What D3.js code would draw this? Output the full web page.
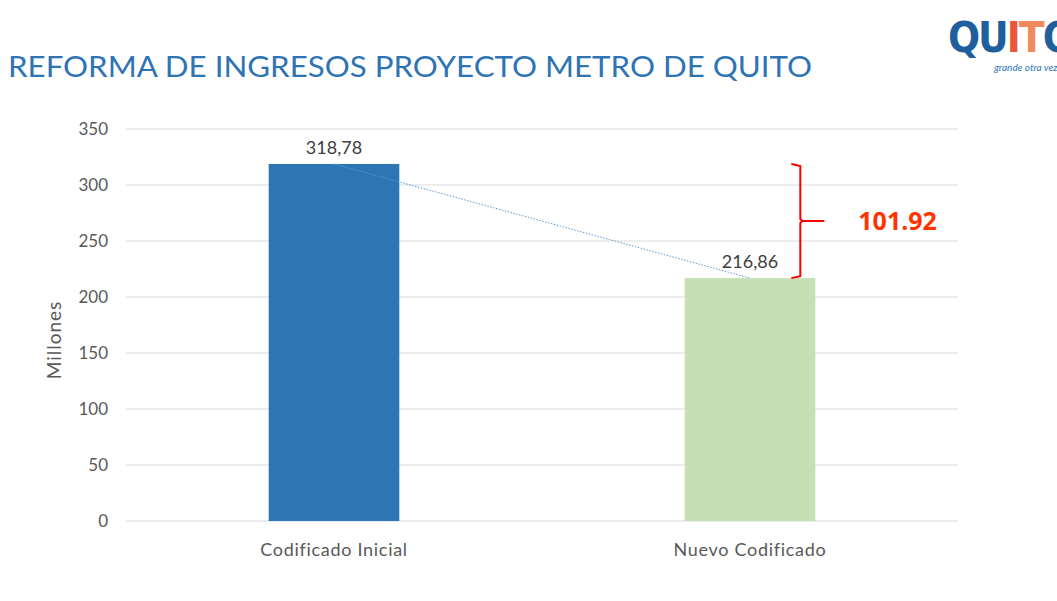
<!DOCTYPE html>
<html>
<head>
<meta charset="utf-8">
<script src="https://cdn.jsdelivr.net/npm/d3@7"></script>
<style>
body { margin: 0; background: #fff; }
text { font-family: Lato, "Open Sans", sans-serif; }
</style>
</head>
<body>
<script>
var categories = ["Codificado Inicial", "Nuevo Codificado"];
var values = [318.78, 216.86];
var valueLabels = ["318,78", "216,86"];
var yTicks = [0, 50, 100, 150, 200, 250, 300, 350];
var diffLabel = "101.92";

var width = 1057, height = 601;
var margin = {top: 129, right: 99, bottom: 80, left: 126};
var plotW = width - margin.left - margin.right,
    plotH = height - margin.top - margin.bottom;

var svg = d3.select("body").append("svg")
    .attr("width", width)
    .attr("height", height);

// title
svg.append("text")
    .attr("x", 8).attr("y", 77)
    .attr("textLength", 804)
    .attr("lengthAdjust", "spacingAndGlyphs")
    .style("font-size", "29px")
    .style("fill", "#2E74B5")
    .text("REFORMA DE INGRESOS PROYECTO METRO DE QUITO");

// logo (cut at the right edge, as in the slide)
var logo = svg.append("text")
    .attr("x", 948).attr("y", 52)
    .style("font-family", "'DejaVu Sans Condensed', 'DejaVu Sans', sans-serif")
    .style("font-stretch", "condensed")
    .style("font-weight", "bold")
    .style("font-size", "42px")
    .style("letter-spacing", "-2px");
logo.append("tspan").style("fill", "#1F5F9E").text("QU");
logo.append("tspan").style("fill", "#E8573A").text("I");
logo.append("tspan").style("fill", "#F08A5D").text("T");
logo.append("tspan").style("fill", "#1F5F9E").text("O");
svg.append("text")
    .attr("x", 994).attr("y", 71)
    .style("font-style", "italic")
    .style("font-size", "10px")
    .style("fill", "#2E74B5")
    .text("grande otra vez");

var g = svg.append("g")
    .attr("transform", "translate(" + margin.left + "," + margin.top + ")");

var x = d3.scaleBand()
    .domain(categories)
    .range([0, plotW])
    .padding(0);

var y = d3.scaleLinear()
    .domain([0, 350])
    .range([plotH, 0]);

var barW = x.bandwidth() * 0.314;

// gridlines
g.selectAll(".grid")
    .data(yTicks)
    .enter().append("line")
    .attr("x1", 0).attr("x2", plotW)
    .attr("y1", function(d) { return y(d); })
    .attr("y2", function(d) { return y(d); })
    .style("stroke", "#d9d9d9")
    .style("stroke-width", 1);

// y axis
var yAxis = d3.axisLeft(y).tickValues(yTicks).tickSize(0).tickPadding(18);
var ya = g.append("g").call(yAxis);
ya.select(".domain").remove();
ya.selectAll("text")
    .style("font-family", "Lato, sans-serif")
    .style("font-size", "17px")
    .style("fill", "#595959");

// x axis
var xAxis = d3.axisBottom(x).tickSize(0).tickPadding(22);
var xa = g.append("g")
    .attr("transform", "translate(0," + plotH + ")")
    .call(xAxis);
xa.select(".domain").remove();
xa.selectAll("text")
    .style("font-family", "Lato, sans-serif")
    .style("font-size", "18px")
    .style("letter-spacing", "0.7px")
    .style("fill", "#595959");

svg.append("text")
    .attr("transform", "translate(61,340) rotate(-90)")
    .style("text-anchor", "middle")
    .style("font-size", "19px")
    .style("letter-spacing", "1px")
    .style("fill", "#595959")
    .text("Millones");

var colors = ["#2E75B6", "#C5E0B4"];

g.selectAll(".bar")
    .data(values)
    .enter().append("rect")
    .attr("x", function(d, i) { return x(categories[i]) + x.bandwidth() / 2 - barW / 2; })
    .attr("width", barW)
    .attr("y", function(d) { return y(d); })
    .attr("height", function(d) { return plotH - y(d); })
    .style("fill", function(d, i) { return colors[i]; });

// dotted trend line between tops
g.append("line")
    .attr("x1", x(categories[0]) + x.bandwidth() / 2)
    .attr("y1", y(values[0]))
    .attr("x2", x(categories[1]) + x.bandwidth() / 2)
    .attr("y2", y(values[1]))
    .style("stroke", "#5B9BD5")
    .style("stroke-width", 1)
    .style("stroke-dasharray", "1.5,1.5");

// value labels
g.selectAll(".vlabel")
    .data(values)
    .enter().append("text")
    .attr("x", function(d, i) { return x(categories[i]) + x.bandwidth() / 2; })
    .attr("y", function(d) { return y(d) - 10; })
    .style("text-anchor", "middle")
    .style("font-size", "18px")
    .style("fill", "#404040")
    .text(function(d, i) { return valueLabels[i]; });

// bracket showing the difference
var bx = x(categories[1]) + x.bandwidth() / 2 + barW / 2 - 15;
var yTop = y(values[0]), yBot = y(values[1]), yMid = (yTop + yBot) / 2;
var bracket = d3.path();
bracket.moveTo(bx - 9, yTop);
bracket.lineTo(bx, yTop + 2);
bracket.lineTo(bx, yMid - 2);
bracket.lineTo(bx + 2, yMid);
bracket.lineTo(bx + 24, yMid);
bracket.moveTo(bx + 2, yMid);
bracket.lineTo(bx, yMid + 2);
bracket.lineTo(bx, yBot - 2);
bracket.lineTo(bx - 9, yBot);
g.append("path")
    .attr("d", bracket.toString())
    .style("fill", "none")
    .style("stroke", "#FF0000")
    .style("stroke-width", 2);

g.append("text")
    .attr("x", bx + 58)
    .attr("y", yMid + 9)
    .style("font-family", "'Open Sans', sans-serif")
    .style("font-weight", "bold")
    .style("font-size", "25px")
    .style("fill", "#FF3300")
    .text(diffLabel);
</script>
</body>
</html>
